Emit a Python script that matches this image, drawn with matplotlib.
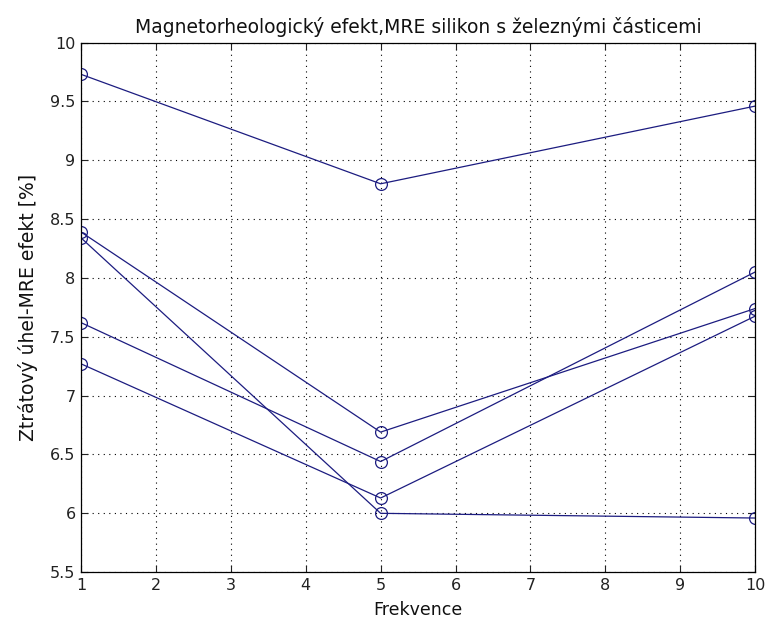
import matplotlib
matplotlib.use("Agg")
import matplotlib.pyplot as plt

plt.rcParams["font.family"] = ["DejaVu Sans"]

frekvence = [1, 5, 10]
serie_a = [9.73, 8.80, 9.46]
serie_b = [8.39, 6.69, 7.74]
serie_c = [8.34, 6.00, 5.96]
serie_d = [7.62, 6.44, 8.05]
serie_e = [7.27, 6.13, 7.675]
serie = [serie_a, serie_b, serie_c, serie_d, serie_e]

x_ticks = list(range(1, 11))
y_ticks = [5.5, 6, 6.5, 7, 7.5, 8, 8.5, 9, 9.5, 10]
y_labels = ["5.5", "6", "6.5", "7", "7.5", "8", "8.5", "9", "9.5", "10"]

fig = plt.figure(figsize=(7.65, 6.26), dpi=100)
ax = fig.add_axes([0.106, 0.086, 0.881, 0.846])

color = "#1c1c80"
for s in serie:
    ax.plot(frekvence, s, "-o", color=color, linewidth=0.9,
            markersize=8.5, markerfacecolor="none", markeredgewidth=0.9)

ax.set_xlim(1, 10)
ax.set_ylim(5.5, 10)
ax.set_xticks(x_ticks)
ax.set_yticks(y_ticks)
ax.set_yticklabels(y_labels)
ax.grid(True, linestyle=(0, (1, 4)), color="black", linewidth=0.8)
ax.tick_params(direction="in", length=5, width=0.8, top=True, right=True,
               labelsize=11.5, colors="#222222", pad=4)
for sp in ax.spines.values():
    sp.set_linewidth(0.9)

ax.set_title("Magnetorheologický efekt,MRE silikon s železnými částicemi",
             fontsize=13.5, pad=7, color="#111111")
ax.set_xlabel("Frekvence", fontsize=12.5, labelpad=6, color="#111111")
ax.set_ylabel("Ztrátový úhel-MRE efekt [%]", fontsize=13.5, labelpad=9,
              color="#111111")

fig.savefig("out.png", dpi=100, facecolor="white")
